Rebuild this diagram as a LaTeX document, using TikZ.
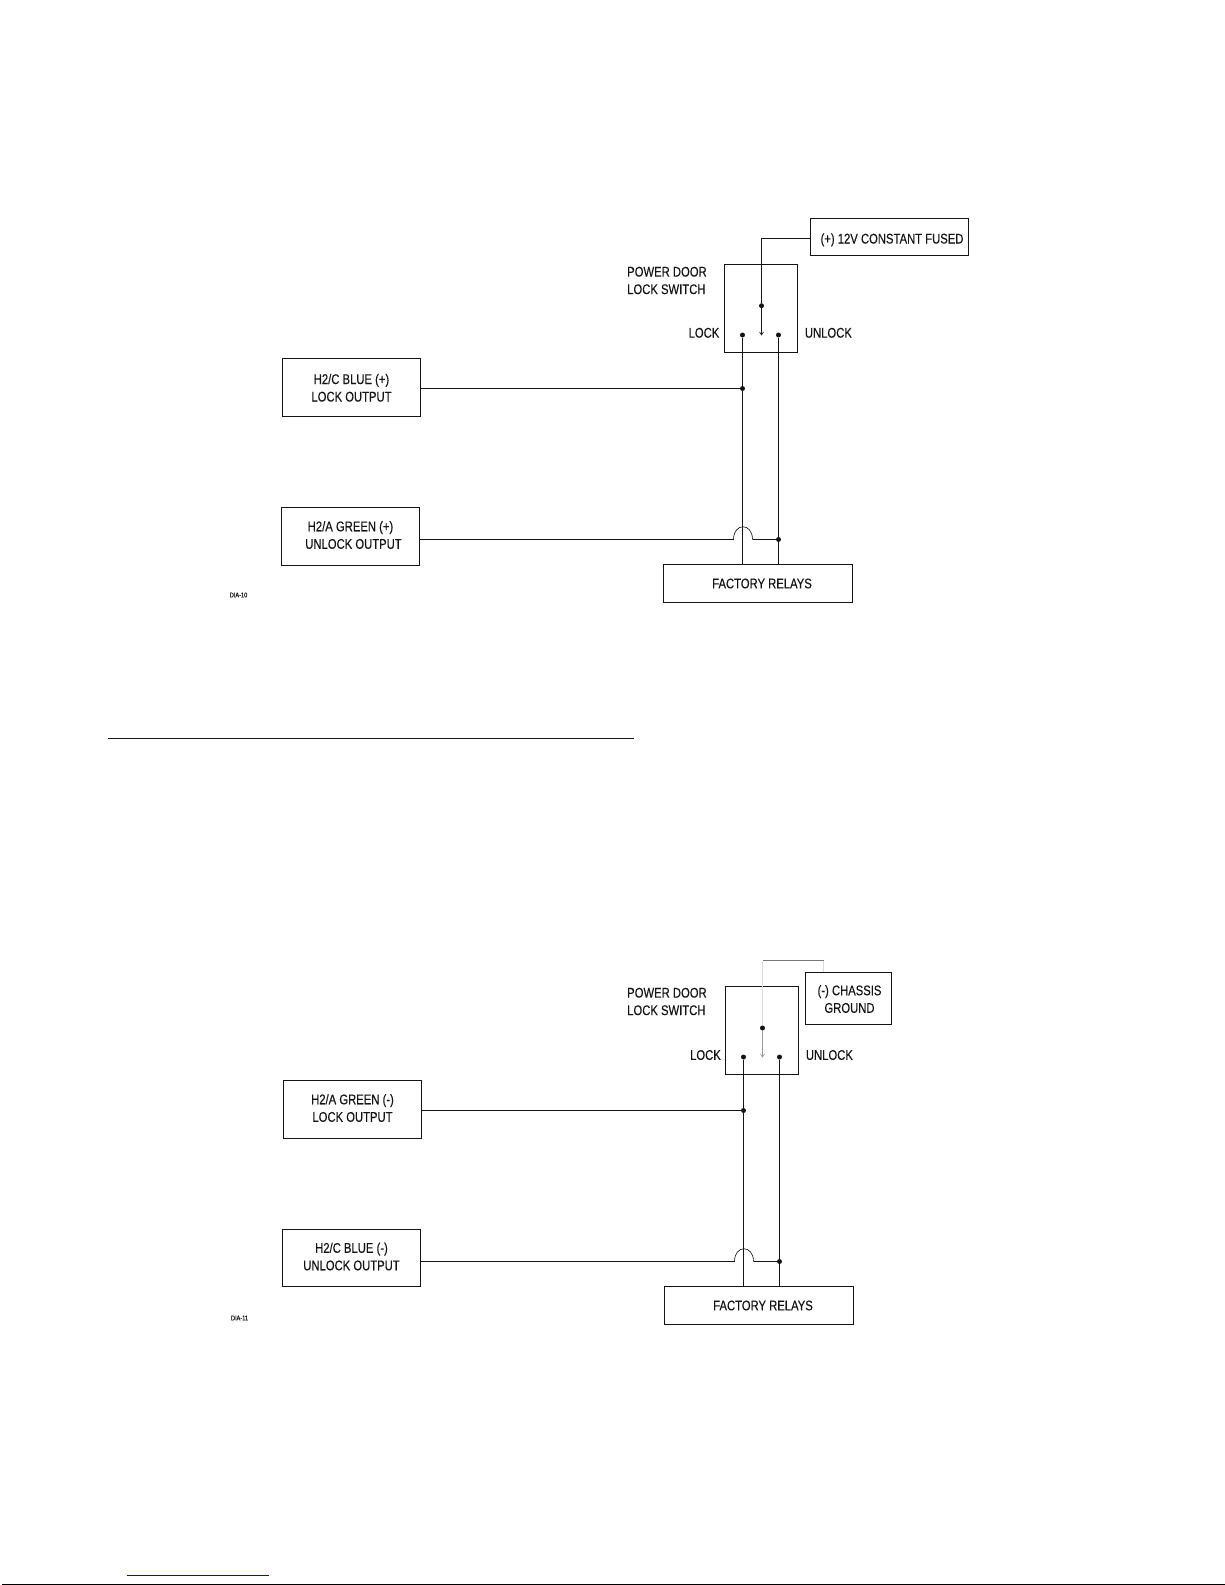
\documentclass[tikz,border=0pt]{standalone}
\usepackage{fontspec}
\setmainfont[FakeStretch=0.805,FakeBold=0.25]{Liberation Sans}
\usetikzlibrary{arrows.meta}
\definecolor{ink}{HTML}{141414}
\definecolor{wiregray}{HTML}{DADADA}
\definecolor{topgray}{HTML}{777777}
\definecolor{linkblue}{HTML}{0000EE}
% #1 = twice the downward shift of the text inside its box
\newcommand{\boxtext}[2]{\raisebox{0pt}[\dimexpr\height+#1\relax][\depth]{\begin{tabular}{@{}c@{}}#2\end{tabular}}}
\tikzset{
  wire/.style={draw=ink,line width=1.1pt},
  hopwire/.style={draw=ink,line width=0.65pt},
  lightwire/.style={draw=wiregray,line width=1.6pt},
  thinwire/.style={draw=topgray,line width=0.8pt},
  boxnode/.style={draw=ink,line width=1.1pt,inner sep=0pt,align=center,text=ink,font=\fontsize{14}{17.5}\selectfont},
  lbl/.style={inner sep=0pt,align=left,text=ink,font=\fontsize{14}{17.5}\selectfont},
  dotnode/.style={circle,fill=ink,inner sep=0pt,minimum size=5pt},
  tiplabel/.style={inner sep=0pt,text=ink,font=\fontsize{7}{8}\selectfont},
  tip/.style={-{Straight Barb[length=3pt,width=4pt,line width=0.6pt]}}
}
\begin{document}
\begin{tikzpicture}[x=1pt,y=-1pt]
\useasboundingbox (0,0) rectangle (1225,1585);
% ---------- top diagram ----------
\node[boxnode,minimum width=158pt,minimum height=37pt] (fused) at (889.5,237) {\boxtext{6pt}{\hspace*{5pt}(+) 12V CONSTANT FUSED}};
\node[boxnode,minimum width=73pt,minimum height=88pt] (sw1) at (761,308.5) {};
\node[lbl,anchor=west] (pd1) at (627,280.5) {POWER DOOR\\LOCK SWITCH};
\node[lbl,anchor=east] (lk1) at (719.5,332.8) {LOCK};
\node[lbl,anchor=west] (ul1) at (804.7,332.8) {UNLOCK};
\node[boxnode,minimum width=138pt,minimum height=58pt] (blueP) at (351.5,387.5) {\boxtext{3.5pt}{H2/C BLUE (+)\\LOCK OUTPUT}};
\node[boxnode,minimum width=138pt,minimum height=58pt] (greenP) at (350.5,536.5) {\boxtext{0pt}{H2/A GREEN (+)\\\hspace*{6pt}UNLOCK OUTPUT}};
\node[boxnode,minimum width=189pt,minimum height=38pt] (rel1) at (758,583.5) {\hspace*{8pt}FACTORY RELAYS};
\node[dotnode] (c1) at (761.5,305.7) {};
\node[dotnode] (l1) at (742.5,335) {};
\node[dotnode] (u1) at (778.5,335) {};
\node[dotnode] (jl1) at (742.5,388.5) {};
\node[dotnode] (ju1) at (778.5,539.5) {};
\coordinate (corner1) at (761.5,238.5);
\coordinate (tip1) at (761.5,335.5);
\coordinate (humpa1) at (733.5,539.5);
\coordinate (humpb1) at (752.5,539.5);
\draw[wire] (fused.west |- corner1) -- (corner1) -- (c1);
\draw[wire,tip] (c1) -- (tip1);
\draw[wire] (l1) -- (l1 |- rel1.north);
\draw[wire] (u1) -- (u1 |- rel1.north);
\draw[wire] (blueP.east |- jl1) -- (jl1);
\draw[wire] (greenP.east |- humpa1) -- (humpa1);
\draw[hopwire] (humpa1) .. controls (733.5,522.5) and (752.5,522.5) .. (humpb1);
\draw[wire] (humpb1) -- (ju1);
\node[tiplabel] (dia10) at (238.5,595) {DIA-10};
% ---------- separator ----------
\coordinate (sepa) at (108,738.5);
\coordinate (sepb) at (634,738.5);
\draw[wire] (sepa) -- (sepb);
% ---------- bottom diagram ----------
\node[boxnode,minimum width=86pt,minimum height=52pt] (gnd) at (848.5,998.5) {\boxtext{4pt}{\hspace*{2pt}(-) CHASSIS\\\hspace*{2pt}GROUND}};
\node[boxnode,minimum width=73pt,minimum height=88pt] (sw2) at (762,1030.5) {};
\node[lbl,anchor=west] (pd2) at (627,1001.5) {POWER DOOR\\LOCK SWITCH};
\node[lbl,anchor=east] (lk2) at (721,1055) {LOCK};
\node[lbl,anchor=west] (ul2) at (805.7,1055) {UNLOCK};
\node[boxnode,minimum width=138pt,minimum height=58pt] (greenM) at (352.5,1109.5) {\boxtext{0pt}{H2/A GREEN (-)\\LOCK OUTPUT}};
\node[boxnode,minimum width=138pt,minimum height=57pt] (blueM) at (351.5,1258) {\boxtext{0pt}{H2/C BLUE (-)\\UNLOCK OUTPUT}};
\node[boxnode,minimum width=189pt,minimum height=38pt] (rel2) at (759,1305.5) {\hspace*{8pt}FACTORY RELAYS};
\node[dotnode] (c2) at (762.5,1028) {};
\node[dotnode] (l2) at (743.5,1057) {};
\node[dotnode] (u2) at (779.5,1057) {};
\node[dotnode] (jl2) at (743.5,1110.5) {};
\node[dotnode] (ju2) at (779.5,1261.5) {};
\coordinate (corner2a) at (762.5,960.5);
\coordinate (corner2b) at (823.5,960.5);
\coordinate (tip2) at (762.5,1057.5);
\coordinate (humpa2) at (734.5,1261.5);
\coordinate (humpb2) at (753.5,1261.5);
\draw[lightwire] (corner2a) -- (c2);
\draw[lightwire] (corner2b) -- (corner2b |- gnd.north);
\draw[thinwire] (corner2a) -- (corner2b);
\draw[lightwire,draw=wiregray!70!black,line width=0.9pt,tip] (c2) -- (tip2);
\draw[wire] (l2) -- (l2 |- rel2.north);
\draw[wire] (u2) -- (u2 |- rel2.north);
\draw[wire] (greenM.east |- jl2) -- (jl2);
\draw[wire] (blueM.east |- humpa2) -- (humpa2);
\draw[hopwire] (humpa2) .. controls (734.5,1244.5) and (753.5,1244.5) .. (humpb2);
\draw[wire] (humpb2) -- (ju2);
\node[tiplabel] (dia11) at (239.5,1318) {DIA-11};
% ---------- page artefacts ----------
\coordinate (linka) at (127,1575.5);
\coordinate (linkb) at (269,1575.5);
\coordinate (edgea) at (2,1584.5);
\coordinate (edgeb) at (1225,1584.5);
\draw[draw=linkblue,line width=1pt] (linka) -- (linkb);
\draw[draw=black,line width=1pt] (edgea) -- (edgeb);
\end{tikzpicture}
\end{document}
